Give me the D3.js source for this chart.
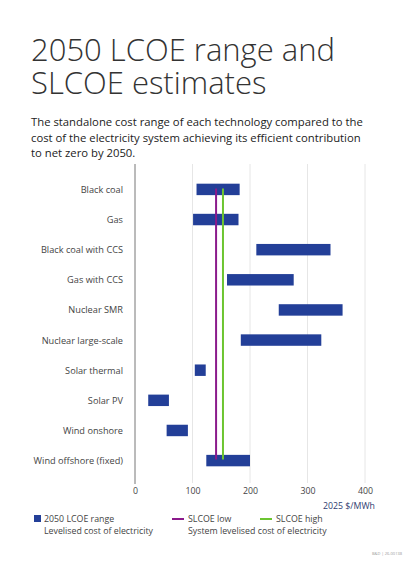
<!DOCTYPE html>
<html><head><meta charset="utf-8">
<script src="https://cdn.jsdelivr.net/npm/d3@7"></script>
<style>body{margin:0;background:#fff;font-family:"Open Sans",sans-serif;}</style>
</head><body><div id="root"></div>
<script>
// technologies, top to bottom
const technologies = ['Black coal', 'Gas', 'Black coal with CCS', 'Gas with CCS', 'Nuclear SMR',
  'Nuclear large-scale', 'Solar thermal', 'Solar PV', 'Wind onshore', 'Wind offshore (fixed)'];
// 2050 LCOE range, $/MWh
const lcoeLow = [107, 101, 211, 160, 250, 184, 104, 23, 55, 124];
const lcoeHigh = [182, 180, 340, 276, 361, 324, 123, 59, 92, 200];
const slcoeLow = 141;
const slcoeHigh = 153;
const xTicks = [0, 100, 200, 300, 400];

const W = 410, H = 566;
const svg = d3.select('#root').append('svg').attr('width', W).attr('height', H);
const grey = '#444';

svg.append('text').attr('x', 31).attr('y', 61).attr('font-size', 31).attr('font-weight', 300)
  .attr('fill', '#333').text('2050 LCOE range and');
svg.append('text').attr('x', 31).attr('y', 94).attr('font-size', 31).attr('font-weight', 300)
  .attr('fill', '#333').text('SLCOE estimates');
['The standalone cost range of each technology compared to the',
 'cost of the electricity system achieving its efficient contribution',
 'to net zero by 2050.'].forEach((t, i) => {
  svg.append('text').attr('x', 31).attr('y', 126 + i * 15.5).attr('font-size', 11.3)
    .attr('fill', '#222').text(t);
});

const x = d3.scaleLinear().domain([0, 400]).range([135, 365]);
const y = d3.scaleBand().domain(technologies).range([165, 485]).padding(0.62);

// grid
svg.selectAll('line.grid').data(xTicks.slice(1)).enter().append('line')
  .attr('x1', d => x(d)).attr('x2', d => x(d)).attr('y1', 164).attr('y2', 483)
  .attr('stroke', '#e6e6e6').attr('stroke-width', 1);
svg.append('line').attr('x1', x(0)).attr('x2', x(0)).attr('y1', 164).attr('y2', 484)
  .attr('stroke', '#777').attr('stroke-width', 1);

// bars
svg.selectAll('rect.bar').data(technologies).enter().append('rect')
  .attr('x', (d, i) => x(lcoeLow[i]))
  .attr('width', (d, i) => x(lcoeHigh[i]) - x(lcoeLow[i]))
  .attr('y', d => y(d)).attr('height', y.bandwidth())
  .attr('fill', '#233f98');

// SLCOE lines
const yTop = y(technologies[0]) + y.bandwidth() / 2 - 1;
const yBot = y(technologies[technologies.length - 1]) + y.bandwidth() / 2 - 1;
[[slcoeLow, '#8b1a8b'], [slcoeHigh, '#6cc531']].forEach(([v, c]) => {
  svg.append('line').attr('x1', x(v)).attr('x2', x(v)).attr('y1', yTop).attr('y2', yBot)
    .attr('stroke', c).attr('stroke-width', 2);
});

// category labels
svg.selectAll('text.cat').data(technologies).enter().append('text')
  .attr('x', 123).attr('y', d => y(d) + y.bandwidth() / 2 + 3.5)
  .attr('text-anchor', 'end').attr('font-size', 9.2).attr('fill', grey).text(d => d);

// x axis
const axis = svg.append('g').attr('transform', 'translate(0,483)')
  .call(d3.axisBottom(x).tickValues(xTicks).tickSize(0).tickPadding(5));
axis.select('.domain').remove();
axis.selectAll('text').attr('font-size', 8.8).attr('fill', grey).attr('font-family', '"Open Sans",sans-serif');
svg.append('text').attr('x', 375).attr('y', 509).attr('text-anchor', 'end').attr('font-size', 8.8)
  .attr('fill', '#2f4070').text('2025 $/MWh');

// legend
svg.append('rect').attr('x', 34).attr('y', 515).attr('width', 7).attr('height', 7).attr('fill', '#233f98');
svg.append('text').attr('x', 44).attr('y', 522).attr('font-size', 8.8).attr('fill', grey).text('2050 LCOE range');
svg.append('text').attr('x', 44).attr('y', 534).attr('font-size', 8.8).attr('fill', grey).text('Levelised cost of electricity');
svg.append('line').attr('x1', 172).attr('x2', 184).attr('y1', 519).attr('y2', 519).attr('stroke', '#8b1a8b').attr('stroke-width', 2);
svg.append('text').attr('x', 188).attr('y', 522).attr('font-size', 8.8).attr('fill', grey).text('SLCOE low');
svg.append('text').attr('x', 188).attr('y', 534).attr('font-size', 8.8).attr('fill', grey).text('System levelised cost of electricity');
svg.append('line').attr('x1', 260).attr('x2', 272).attr('y1', 519).attr('y2', 519).attr('stroke', '#6cc531').attr('stroke-width', 2);
svg.append('text').attr('x', 276).attr('y', 522).attr('font-size', 8.8).attr('fill', grey).text('SLCOE high');

svg.append('text').attr('x', 402).attr('y', 555).attr('text-anchor', 'end').attr('font-size', 4)
  .attr('fill', '#999').text('B&D | 26-00138');
</script></body></html>
